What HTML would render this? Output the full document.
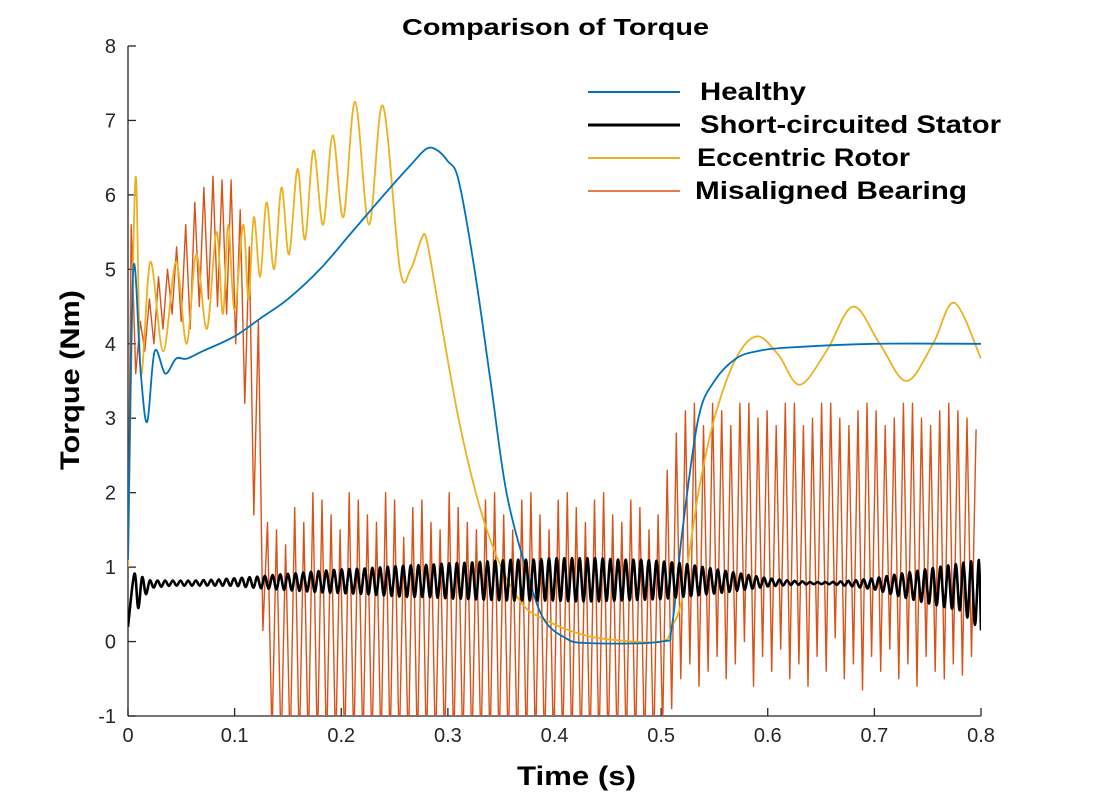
<!DOCTYPE html>
<html><head><meta charset="utf-8"><style>
body{margin:0;background:#fff;}
svg text{font-family:"Liberation Sans",Arial,sans-serif;}
</style></head><body>
<svg id="chart" width="1102" height="802" viewBox="0 0 1102 802">
<defs><clipPath id="plotclip"><rect x="128" y="46" width="853" height="670"/></clipPath></defs>
<text x="402" y="35" textLength="307" lengthAdjust="spacingAndGlyphs" font-size="23" font-weight="bold">Comparison of Torque</text>
<text transform="translate(79,470) rotate(-90)" textLength="180" lengthAdjust="spacingAndGlyphs" font-size="27" font-weight="bold">Torque (Nm)</text>
<text x="517" y="785" textLength="119" lengthAdjust="spacingAndGlyphs" font-size="27" font-weight="bold">Time (s)</text>
<g id="axes"></g>
<g id="series" clip-path="url(#plotclip)"></g>
<g id="legend"></g>
</svg>
<script>
const xTicks=[0,0.1,0.2,0.3,0.4,0.5,0.6,0.7,0.8];
const xTickLabels=["0","0.1","0.2","0.3","0.4","0.5","0.6","0.7","0.8"];
const yTicks=[-1,0,1,2,3,4,5,6,7,8];
const yTickLabels=["-1","0","1","2","3","4","5","6","7","8"];

const healthyT=[0,0.005,0.012,0.018,0.025,0.035,0.045,0.055,0.07,0.1,0.125,0.15,0.18,0.21,0.24,0.265,0.28,0.29,0.3,0.31,0.325,0.34,0.355,0.375,0.39,0.41,0.43,0.5,0.51,0.52,0.535,0.55,0.57,0.59,0.62,0.7,0.8];
const healthyV=[1.1,5.0,3.6,2.95,3.9,3.6,3.8,3.8,3.9,4.1,4.35,4.6,5.0,5.5,6.0,6.4,6.62,6.6,6.45,6.2,5.0,3.5,2.0,0.9,0.3,0.05,-0.02,0.0,0.2,1.5,3.0,3.5,3.8,3.9,3.95,4.0,4.0];

const eccT=[0,0.0068,0.012,0.021,0.033,0.045,0.055,0.064,0.074,0.083,0.089,0.094,0.1,0.108,0.113,0.118,0.124,0.13,0.137,0.144,0.151,0.159,0.166,0.174,0.183,0.192,0.202,0.213,0.226,0.239,0.255,0.265,0.275,0.28,0.29,0.31,0.33,0.35,0.37,0.39,0.42,0.45,0.5,0.51,0.52,0.535,0.55,0.57,0.59,0.61,0.63,0.655,0.68,0.705,0.73,0.755,0.775,0.8];
const eccV=[1.0,6.2,3.6,5.1,3.9,5.1,4.0,5.2,4.2,5.5,4.4,5.6,4.45,5.6,4.6,5.7,4.9,5.9,5.0,6.1,5.2,6.35,5.4,6.6,5.6,6.8,5.7,7.25,5.6,7.2,5.0,5.0,5.4,5.4,4.6,3.0,1.8,1.0,0.5,0.3,0.12,0.03,0.0,0.2,0.6,2.0,3.0,3.8,4.1,3.85,3.45,3.9,4.5,4.0,3.5,4.0,4.55,3.8];

const statorEnvT=[0,0.02,0.04,0.06,0.08,0.1,0.12,0.14,0.16,0.18,0.2,0.22,0.24,0.26,0.28,0.3,0.32,0.34,0.36,0.38,0.4,0.42,0.44,0.46,0.48,0.5,0.52,0.54,0.56,0.58,0.6,0.62,0.64,0.66,0.68,0.7,0.72,0.74,0.76,0.78,0.8];
const statorUpper=[0.95,0.82,0.82,0.82,0.83,0.85,0.87,0.9,0.92,0.95,0.97,0.98,1.0,1.02,1.03,1.05,1.06,1.08,1.1,1.1,1.12,1.12,1.12,1.1,1.1,1.08,1.05,1.0,0.95,0.9,0.85,0.82,0.8,0.8,0.82,0.85,0.9,0.95,1.0,1.05,1.1];
const statorLower=[0.2,0.72,0.75,0.75,0.75,0.75,0.72,0.7,0.68,0.66,0.65,0.64,0.62,0.6,0.6,0.58,0.57,0.56,0.55,0.55,0.55,0.54,0.54,0.55,0.56,0.57,0.6,0.63,0.66,0.7,0.74,0.76,0.77,0.77,0.74,0.7,0.62,0.55,0.48,0.42,0.15];

const bearingStart=0.003, bearingPeriod=0.00852;
const bearingPeaks=[5.6,4.3,4.6,4.9,5.0,5.3,5.6,5.9,6.1,6.25,6.2,6.2,5.8,5.3,4.3,1.6,
1.5,1.3,1.8,1.6,2.0,1.9,1.7,1.5,2.0,1.9,1.7,1.6,2.0,1.9,1.4,1.8,1.9,1.6,1.5,2.0,1.8,1.6,1.5,1.9,2.0,1.7,1.5,1.9,2.0,
1.7,1.5,1.9,2.0,1.8,1.6,1.9,2.0,1.7,1.6,1.9,1.8,1.5,1.7,
2.3,2.8,3.1,3.2,2.9,3.2,3.1,2.9,3.2,3.2,3.0,3.1,2.9,3.2,3.2,2.9,3.0,3.2,3.2,3.0,2.9,3.1,3.2,3.1,2.9,3.0,3.2,3.2,3.0,2.9,3.1,3.2,3.1,3.0,2.85];
const bearingTroughs=[3.6,3.9,4.0,4.2,4.4,4.3,4.2,4.5,4.6,4.5,4.4,4.0,3.2,1.7,0.15,-1.3,
-1.5,-1.5,-1.5,-1.5,-1.5,-1.5,-1.5,-1.5,-1.5,-1.5,-1.5,-1.5,-1.5,-1.5,-1.5,-1.5,-1.5,-1.5,-1.5,-1.5,-1.5,-1.5,-1.5,-1.5,-1.5,-1.5,-1.5,-1.5,-1.5,
-1.5,-1.5,-1.5,-1.5,-1.5,-1.5,-1.5,-1.5,-1.5,-1.5,-1.5,-1.5,-1.5,-1.2,
-0.9,-0.5,-0.3,-0.6,-0.4,-0.2,-0.5,-0.3,0.0,-0.6,-0.2,-0.4,-0.1,-0.5,-0.3,-0.6,-0.2,-0.4,0.05,-0.5,-0.3,-0.65,-0.2,-0.4,-0.1,-0.5,-0.3,-0.6,-0.2,-0.4,-0.5,-0.3,-0.45,-0.2];

const NS="http://www.w3.org/2000/svg";
const X0=128,X1=981,Y0=716,Y1=46;
function xs(t){return X0+(t-0)/(0.8-0)*(X1-X0);}
function ys(v){return Y0-(v-(-1))/(8-(-1))*(Y0-Y1);}
function mk(tag,attrs,parent){const e=document.createElementNS(NS,tag);for(const k in attrs)e.setAttribute(k,attrs[k]);parent.appendChild(e);return e;}
const axes=document.getElementById('axes');
const series=document.getElementById('series');
const legend=document.getElementById('legend');

const yAxis=mk('line',{x1:X0,y1:Y1,x2:X0,y2:Y0,stroke:'#262626','stroke-width':1.3},axes);


const xAxis=mk('line',{x1:X0,y1:Y0,x2:X1,y2:Y0,stroke:'#262626','stroke-width':1.3},axes);


xTicks.forEach((t,i)=>{
  const tk=mk('line',{x1:xs(t),y1:Y0,x2:xs(t),y2:Y0-8,stroke:'#262626','stroke-width':1.3},axes);
  
  
  const lb=mk('text',{x:xs(t),y:Y0+26,'text-anchor':'middle','font-size':20,fill:'#262626'},axes);
  lb.textContent=xTickLabels[i];
  
  
});
yTicks.forEach((v,i)=>{
  const tk=mk('line',{x1:X0,y1:ys(v),x2:X0+8,y2:ys(v),stroke:'#262626','stroke-width':1.3},axes);
  
  
  const lb=mk('text',{x:X0-12,y:ys(v)+7,'text-anchor':'end','font-size':20,fill:'#262626'},axes);
  lb.textContent=yTickLabels[i];
  
  
});

function pathFrom(ts,vs){return ts.map((t,i)=>(i?'L':'M')+xs(t).toFixed(1)+','+ys(vs[i]).toFixed(1)).join(' ');}
function smoothPath(ts,vs){
  const P=ts.map((t,i)=>[xs(t),ys(vs[i])]);
  let d='M'+P[0][0].toFixed(1)+','+P[0][1].toFixed(1);
  for(let i=0;i<P.length-1;i++){
    const p0=P[i-1]||P[i],p1=P[i],p2=P[i+1],p3=P[i+2]||P[i+1];
    const c1x=p1[0]+(p2[0]-p0[0])/6,c1y=p1[1]+(p2[1]-p0[1])/6;
    const c2x=p2[0]-(p3[0]-p1[0])/6,c2y=p2[1]-(p3[1]-p1[1])/6;
    d+=' C'+c1x.toFixed(1)+','+c1y.toFixed(1)+' '+c2x.toFixed(1)+','+c2y.toFixed(1)+' '+p2[0].toFixed(1)+','+p2[1].toFixed(1);
  }
  return d;
}

function envAt(arr,t){for(let i=0;i<statorEnvT.length-1;i++){if(t<=statorEnvT[i+1]){const f=(t-statorEnvT[i])/(statorEnvT[i+1]-statorEnvT[i]);return arr[i]+f*(arr[i+1]-arr[i]);}}return arr[arr.length-1];}
const sT=[],sV=[];
sT.push(0);sV.push(statorLower[0]);
for(let k=0,t=0.006;t<0.8;k++,t+=0.0036){sT.push(t);sV.push(k%2===0?envAt(statorUpper,t):envAt(statorLower,t));}
sT.push(0.8);sV.push(statorLower[statorLower.length-1]);

const bT=[0],bV=[1.0];
bearingPeaks.forEach((p,i)=>{const t=bearingStart+i*bearingPeriod;bT.push(t);bV.push(p);if(i<bearingTroughs.length){bT.push(t+bearingPeriod/2);bV.push(bearingTroughs[i]);}});

const bearing=mk('path',{d:pathFrom(bT,bV),fill:'none',stroke:'#D95319','stroke-width':1.4,'stroke-linejoin':'round'},series);


const ecc=mk('path',{d:smoothPath(eccT,eccV),fill:'none',stroke:'#EDB120','stroke-width':1.8,'stroke-linejoin':'round'},series);


const healthy=mk('path',{d:smoothPath(healthyT,healthyV),fill:'none',stroke:'#0072BD','stroke-width':1.8,'stroke-linejoin':'round'},series);


const stator=mk('path',{d:smoothPath(sT,sV),fill:'none',stroke:'#000','stroke-width':2.6,'stroke-linejoin':'round'},series);



const legNames=['Healthy','Short-circuited Stator','Eccentric Rotor','Misaligned Bearing'];
const legColors=['#0072BD','#000','#EDB120','#D95319'];
const legW=[2,3,2,1.5];
const legY=[92,125,158,191];
const legTX=[700,700,697,695];
const legLen=[106,301,213,272];
legNames.forEach((n,i)=>{
  const l=mk('line',{x1:588,y1:legY[i],x2:680,y2:legY[i],stroke:legColors[i],'stroke-width':legW[i]},legend);
  
  
  const t=mk('text',{x:legTX[i],y:legY[i]+8,'font-size':25,'font-weight':'bold',fill:'#000',textLength:legLen[i],lengthAdjust:'spacingAndGlyphs'},legend);
  t.textContent=n;
  
  
});
</script>
</body></html>
